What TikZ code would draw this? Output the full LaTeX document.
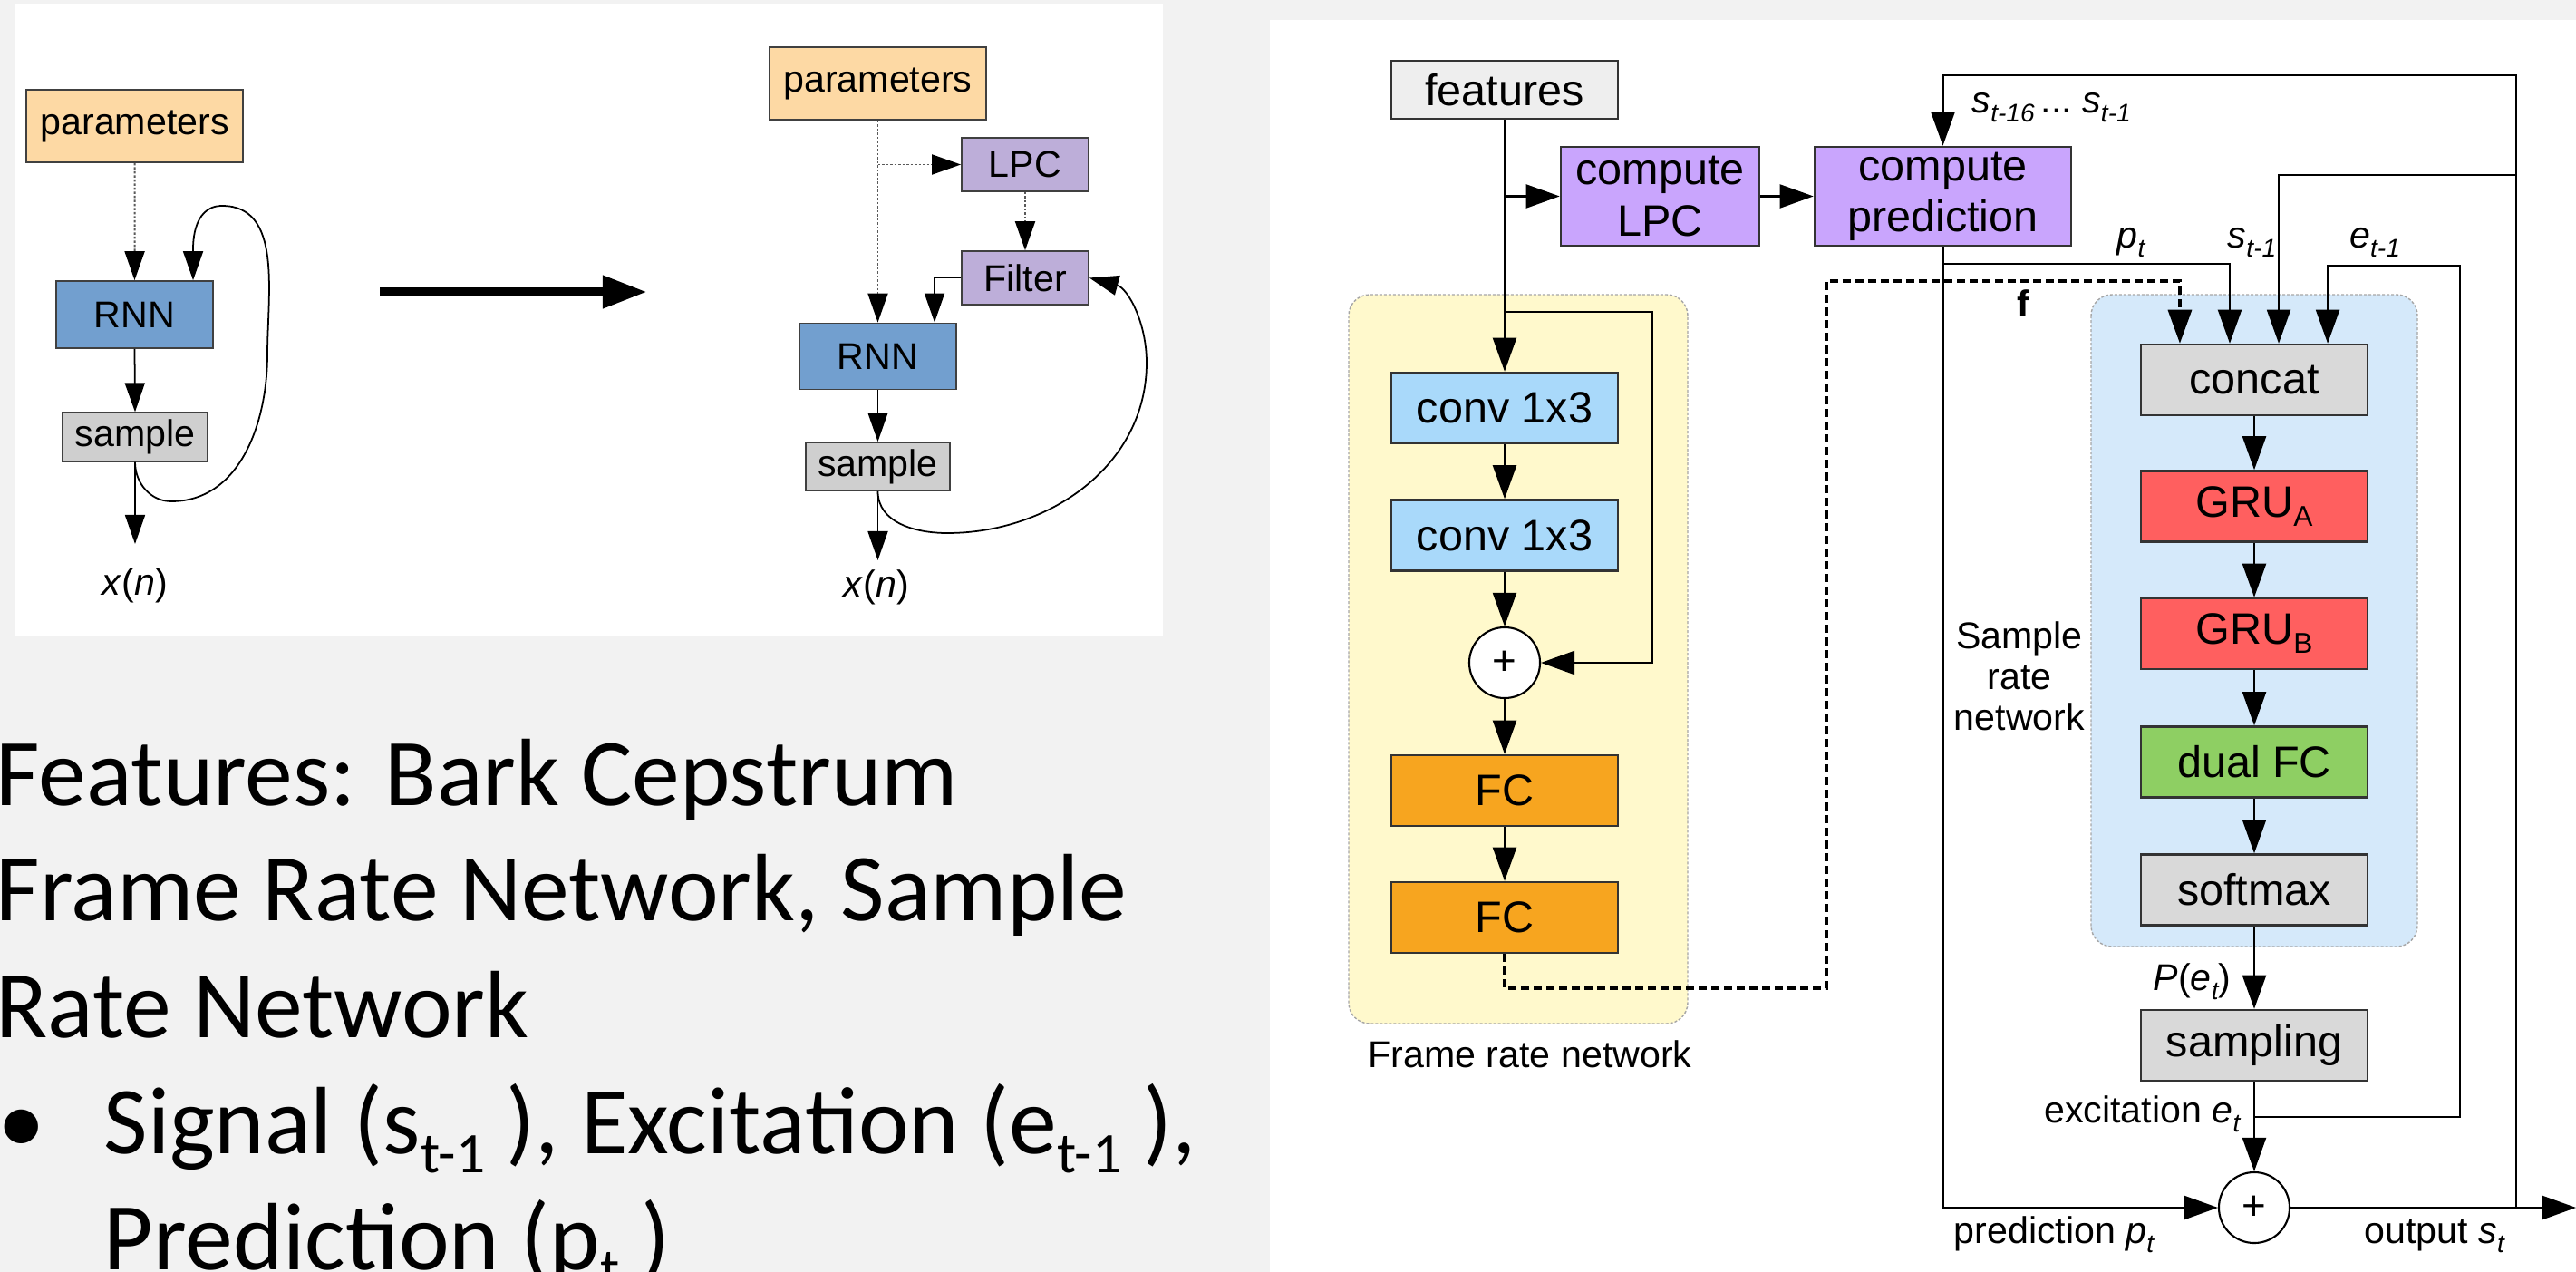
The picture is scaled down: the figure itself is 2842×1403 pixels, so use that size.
\documentclass[tikz,border=0pt]{standalone}
\usepackage{fontspec}
\setmainfont{Liberation Sans}
\newfontfamily\slidefont{Carlito}
\usetikzlibrary{arrows.meta}

\definecolor{pagebg}{HTML}{F2F2F2}
\definecolor{paramfill}{HTML}{FDD9A4}
\definecolor{rnnfill}{HTML}{729FCF}
\definecolor{samplefill}{HTML}{CFCFCF}
\definecolor{lpcfill}{HTML}{BDAED9}
\definecolor{featfill}{HTML}{EEEEEE}
\definecolor{computefill}{HTML}{C9A5FD}
\definecolor{convfill}{HTML}{A9D9FA}
\definecolor{fcfill}{HTML}{F7A51F}
\definecolor{framebg}{HTML}{FFF9CC}
\definecolor{samplebg}{HTML}{D5E9FA}
\definecolor{greyfill}{HTML}{D9D9D9}
\definecolor{grufill}{HTML}{FF5F5F}
\definecolor{dualfill}{HTML}{8ECF63}

% italic subscript for the signal labels
\newcommand{\subtxt}[1]{\raisebox{-0.5ex}{\fontsize{8}{8}\selectfont\itshape #1}}
% subscript inside the GRU boxes
\newcommand{\boxsub}[1]{\raisebox{-0.1cm}{\fontsize{9}{9}\selectfont #1}}
% subscript in the slide text
\newcommand{\slidesub}[1]{\raisebox{-0.21cm}{\fontsize{18}{18}\selectfont #1}}

\begin{document}
\begin{tikzpicture}[x=0.01cm,y=-0.01cm,
  ln/.style={line width=0.6pt, draw=black},
  lnL/.style={line width=0.5pt, draw=black},
  dotL/.style={line width=0.55pt, draw=black!65, dash pattern=on 0.025cm off 0.02cm},
  fdash/.style={line width=0.9pt, draw=black, dash pattern=on 0.09cm off 0.05cm},
  arr/.style={-{Triangle[length=0.37cm,width=0.26cm]}},
  arrL/.style={-{Triangle[length=0.32cm,width=0.22cm,color=black]}},
  blk/.style={draw=black!80, line width=0.7pt, inner sep=0pt, align=center,
    minimum width=2.5cm, minimum height=0.78cm,
    font=\fontsize{13.8}{16}\selectfont},
  lblk/.style={draw=black!75, line width=0.5pt, inner sep=0pt, align=center,
    font=\fontsize{11.7}{13}\selectfont},
  addr/.style={circle, draw=black, line width=0.6pt, fill=white, inner sep=0pt,
    minimum size=0.78cm, font=\fontsize{13}{14}\selectfont},
  lbl/.style={inner sep=0pt, font=\fontsize{11.7}{12.8}\selectfont},
  grp/.style={draw=black!35, line width=0.4pt, dash pattern=on 0.03cm off 0.02cm,
    rounded corners=0.23cm},
  slide/.style={inner sep=0pt, anchor=base west, font=\slidefont\fontsize{30}{36}\selectfont}
]
\useasboundingbox (0,0) rectangle (2842,1403);
\fill[pagebg] (0,0) rectangle (2842,1403);

% ---------- panels ----------
\fill[white] (17,4) rectangle (1283,702);
\fill[white] (1401,22) rectangle (2842,1403);

% ---------- plain RNN vocoder ----------
\node[lblk, fill=paramfill, minimum width=2.39cm, minimum height=0.80cm] (par1) at (148.7,139) {parameters};
\node[lblk, fill=rnnfill, minimum width=1.73cm, minimum height=0.74cm] (rnn1) at (148.5,347) {RNN};
\node[lblk, fill=samplefill, minimum width=1.60cm, minimum height=0.535cm] (samp1) at (149,482) {sample};
\node[lbl, anchor=base] (xn1) at (149,656) {\textit{x}(\textit{n})};
\coordinate (x1tip) at (149,600);
\coordinate (rnn1in) at ([xshift=0.645cm]rnn1.north);

\draw[dotL, arrL] (par1.south) -- (rnn1.north);
\draw[lnL, arrL] (rnn1.south) -- (samp1.north);
\draw[lnL, arrL] (samp1.south) -- (x1tip);
\draw[lnL, arrL] (samp1.south) to[out=-90,in=180] (189,553) to[out=0,in=-90] (295,391)
  to[out=90,in=0] (245,227) to[out=180,in=90] (rnn1in);

% ---------- transition arrow ----------
\coordinate (bigA) at (419,322);
\coordinate (bigB) at (714,322);
\draw[line width=0.1cm, -{Triangle[length=0.49cm,width=0.34cm]}] (bigA) -- (bigB);

% ---------- LPC-aided RNN vocoder ----------
\node[lblk, fill=paramfill, minimum width=2.39cm, minimum height=0.80cm] (par2) at (968.5,92) {parameters};
\node[lblk, fill=lpcfill, minimum width=1.40cm, minimum height=0.59cm] (lpc2) at (1131,181.5) {LPC};
\node[lblk, fill=lpcfill, minimum width=1.40cm, minimum height=0.59cm] (flt2) at (1131,306.5) {Filter};
\node[lblk, fill=rnnfill, minimum width=1.73cm, minimum height=0.73cm] (rnn2) at (968.5,393) {RNN};
\node[lblk, fill=samplefill, minimum width=1.59cm, minimum height=0.53cm] (samp2) at (968.5,514.5) {sample};
\node[lbl, anchor=base] (xn2) at (967,658) {\textit{x}(\textit{n})};
\coordinate (x2tip) at (968.5,618);
\coordinate (rnn2in) at ([xshift=0.625cm]rnn2.north);

\draw[dotL, arrL] (par2.south) -- (rnn2.north);
\draw[dotL, arrL] (par2.south |- lpc2.west) -- (lpc2.west);
\draw[dotL, arrL] (lpc2.south) -- (flt2.north);
\draw[lnL, arrL] (flt2.west) -| (rnn2in);
\draw[lnL, arrL] (rnn2.south) -- (samp2.north);
\draw[lnL, arrL] (samp2.south) -- (x2tip);
\draw[lnL, arrL] (samp2.south) to[out=-90,in=180] (1045,588) to[out=0,in=-90] (1265,400)
  to[out=90,in=-15] (flt2.east);

% ---------- slide text ----------
\node[slide] (t1) at (-5,888) {Features: Bark Cepstrum};
\node[slide] (t2) at (-5,1015) {Frame Rate Network, Sample};
\node[slide] (t3) at (-5,1144) {Rate Network};
\node[slide] (bul) at (-3,1272) {•};
\node[slide] (t4) at (114,1272) {Signal (s\slidesub{t-1} ), Excitation (e\slidesub{t-1} ),};
\node[slide] (t5) at (114,1400) {Prediction (p\slidesub{t} )};

% ---------- LPCNet: group backgrounds ----------
\draw[grp, fill=framebg] (1488,325) rectangle (1862,1129);
\draw[grp, fill=samplebg] (2307,325) rectangle (2667,1044);

% ---------- LPCNet: blocks ----------
\node[blk, fill=featfill, minimum height=0.64cm] (feat) at (1660,99) {features};
\node[blk, fill=computefill, minimum width=2.19cm, minimum height=1.09cm] (lpc) at (1831.5,216.5) {compute\\LPC};
\node[blk, fill=computefill, minimum width=2.83cm, minimum height=1.09cm] (pred) at (2143.5,216.5) {compute\\prediction};

\node[blk, fill=convfill] (conv1) at (1660,450) {conv 1x3};
\node[blk, fill=convfill] (conv2) at (1660,590.5) {conv 1x3};
\node[addr] (plusA) at (1660,731) {+};
\node[blk, fill=fcfill] (fc1) at (1660,872) {FC};
\node[blk, fill=fcfill] (fc2) at (1660,1012) {FC};

\node[blk, fill=greyfill] (concat) at (2487,419) {concat};
\node[blk, fill=grufill] (gruA) at (2487,558.5) {GRU\boxsub{A}};
\node[blk, fill=grufill] (gruB) at (2487,699) {GRU\boxsub{B}};
\node[blk, fill=dualfill] (dualfc) at (2487,840.5) {dual FC};
\node[blk, fill=greyfill] (softmax) at (2487,981.5) {softmax};
\node[blk, fill=greyfill] (sampling) at (2487,1153) {sampling};
\node[addr] (plusB) at (2487,1332) {+};

% ---------- LPCNet: labels ----------
\node[lbl, anchor=base west] (lblhist) at (2175,124) {\textit{s}\subtxt{t-16}\,...\ \textit{s}\subtxt{t-1}};
\node[lbl, anchor=base] (lblp) at (2351,273) {\textit{p}\subtxt{t}};
\node[lbl, anchor=base east] (lbls) at (2512,273) {\textit{s}\subtxt{t-1}};
\node[lbl, anchor=base] (lble) at (2620,273) {\textit{e}\subtxt{t-1}};
\node[lbl, anchor=base, font=\fontsize{11.7}{12.8}\selectfont\bfseries] (lblf) at (2232,349) {f};
\node[lbl, align=center] (lblsrn) at (2228,746) {Sample\\rate\\network};
\node[lbl, anchor=base] (lblfrn) at (1688,1177) {Frame rate network};
\node[lbl, anchor=base east] (lblPe) at (2462,1092) {\textit{P}(\textit{e}\subtxt{t})};
\node[lbl, anchor=base east] (lblexc) at (2472,1238) {excitation \textit{e}\subtxt{t}};
\node[lbl, anchor=base west] (lblpred) at (2155,1371) {prediction \textit{p}\subtxt{t}};
\node[lbl, anchor=base west] (lblout) at (2608,1371) {output \textit{s}\subtxt{t}};

% ---------- LPCNet: routing points ----------
\coordinate (skipA) at (1660,344);
\coordinate (skipR) at (1823,344);
\coordinate (cin1) at ([xshift=-0.82cm]concat.north);
\coordinate (cin2) at ([xshift=-0.27cm]concat.north);
\coordinate (cin3) at ([xshift=0.27cm]concat.north);
\coordinate (cin4) at ([xshift=0.81cm]concat.north);
\coordinate (outJ) at (2776,1332);
\coordinate (topR) at (2776,83);
\coordinate (sJ) at (2776,193);
\coordinate (pJ) at (2143.5,291);
\coordinate (eJ) at (2487,1232);
\coordinate (eTop) at (2714,293);
\coordinate (fLow) at (2015,1090);
\coordinate (fHigh) at (2015,310);
\coordinate (outEnd) at (2842,1332);

% ---------- LPCNet: connectors ----------
\draw[ln, arr] (feat.south) -- (conv1.north);
\draw[ln, arr] (feat.south |- lpc.west) -- (lpc.west);
\draw[ln, arr] (lpc.east) -- (pred.west);
\draw[ln, arr] (conv1.south) -- (conv2.north);
\draw[ln, arr] (conv2.south) -- (plusA.north);
\draw[ln, arr] (plusA.south) -- (fc1.north);
\draw[ln, arr] (fc1.south) -- (fc2.north);
\draw[ln, arr] (skipA) -- (skipR) |- (plusA.east);

\draw[fdash, arr] (fc2.south) |- (fLow) -- (fHigh) -| (cin1);

\draw[ln, arr] (outJ) -- (topR) -| (pred.north);
\draw[ln, arr] (sJ) -| (cin3);
\draw[ln, arr] (pred.south) |- (plusB.west);
\draw[ln, arr] (pJ) -| (cin2);
\draw[ln, arr] (eJ) -| (eTop) -| (cin4);

\draw[ln, arr] (concat.south) -- (gruA.north);
\draw[ln, arr] (gruA.south) -- (gruB.north);
\draw[ln, arr] (gruB.south) -- (dualfc.north);
\draw[ln, arr] (dualfc.south) -- (softmax.north);
\draw[ln, arr] (softmax.south) -- (sampling.north);
\draw[ln, arr] (sampling.south) -- (plusB.north);
\draw[ln, arr] (plusB.east) -- (outEnd);
\end{tikzpicture}
\end{document}
